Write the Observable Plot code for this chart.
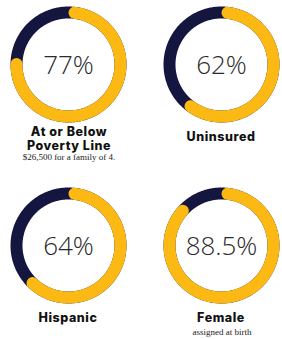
<!DOCTYPE html>
<html><head><meta charset="utf-8">
<script src="https://cdn.jsdelivr.net/npm/d3@7"></script>
<script src="https://cdn.jsdelivr.net/npm/@observablehq/plot@0.6"></script>
<style>
body{margin:0;background:#fff;}
#chart{position:relative;width:282px;height:339px;overflow:hidden;}
.plot{position:absolute;}
.label{position:absolute;width:141px;text-align:center;font-family:Inter,"DejaVu Sans",sans-serif;font-weight:800;font-size:12.5px;line-height:13.5px;color:#111;letter-spacing:0.55px;}
.note{position:absolute;width:141px;text-align:center;font-family:"Liberation Serif",serif;font-size:9px;line-height:10px;color:#222;}
</style></head><body><div id="chart"></div>
<script>
const labels = ["At or Below<br>Poverty Line", "Uninsured", "Hispanic", "Female"];
const values = [77, 62, 64, 88.5];
const valueLabels = ["77%", "62%", "64%", "88.5%"];
const notes = ["$26,500 for a family of 4.", "", "", "assigned at birth"];

const navy = "#15163f", gold = "#fdb913";
const R = 52, W = 12;
// layout per cell: [left, top, cx, cy, labelTop, noteTop]
const cells = [
  [0, 0, 68, 64, 125, 152],
  [141, 0, 80, 64, 130, null],
  [0, 181, 68, 64, 311, null],
  [141, 181, 80, 64, 311, 327]
];
const chart = document.getElementById("chart");
function arcPts(a0, a1) {
  const n = Math.max(2, Math.ceil((a1 - a0) / (Math.PI / 180)));
  return d3.range(n + 1).map(i => {
    const t = a0 + (a1 - a0) * i / n;
    return {x: Math.sin(t), y: Math.cos(t)};
  });
}
values.forEach((v, i) => {
  const [left, top, cx, cy, lt, nt] = cells[i];
  const cap = (W / 2) / R;
  const ring = arcPts(0, 2 * Math.PI + 0.05);
  const fill = arcPts(cap, v / 100 * 2 * Math.PI - cap);
  const p = Plot.plot({
    width: 141, height: 130,
    margin: 0,
    x: {domain: [-1, 1], range: [cx - R, cx + R], axis: null},
    y: {domain: [-1, 1], range: [cy + R, cy - R], axis: null},
    marks: [
      Plot.line(ring, {x: "x", y: "y", stroke: navy, strokeWidth: W, curve: "linear"}),
      Plot.line(fill, {x: "x", y: "y", stroke: gold, strokeWidth: W, strokeLinecap: "round", curve: "linear"}),
      Plot.text([valueLabels[i]], {x: () => 0, y: () => 0, text: d => d, fontSize: 26, fontWeight: 300, fontFamily: "'Open Sans', Lato, sans-serif", fill: "#2a2a2a", dy: 1.5, textAnchor: "middle"})
    ]
  });
  p.classList.add("plot");
  p.style.left = left + "px";
  p.style.top = top + "px";
  chart.appendChild(p);
  const lab = document.createElement("div");
  lab.className = "label";
  lab.innerHTML = labels[i];
  lab.style.left = (left + cx - 70.5 + (i === 0 ? 1 : 0)) + "px";
  lab.style.top = lt + "px";
  chart.appendChild(lab);
  if (notes[i]) {
    const n = document.createElement("div");
    n.className = "note";
    n.textContent = notes[i];
    n.style.left = (left + cx - 70.5 + 1) + "px";
    n.style.top = nt + "px";
    chart.appendChild(n);
  }
});
</script></body></html>
